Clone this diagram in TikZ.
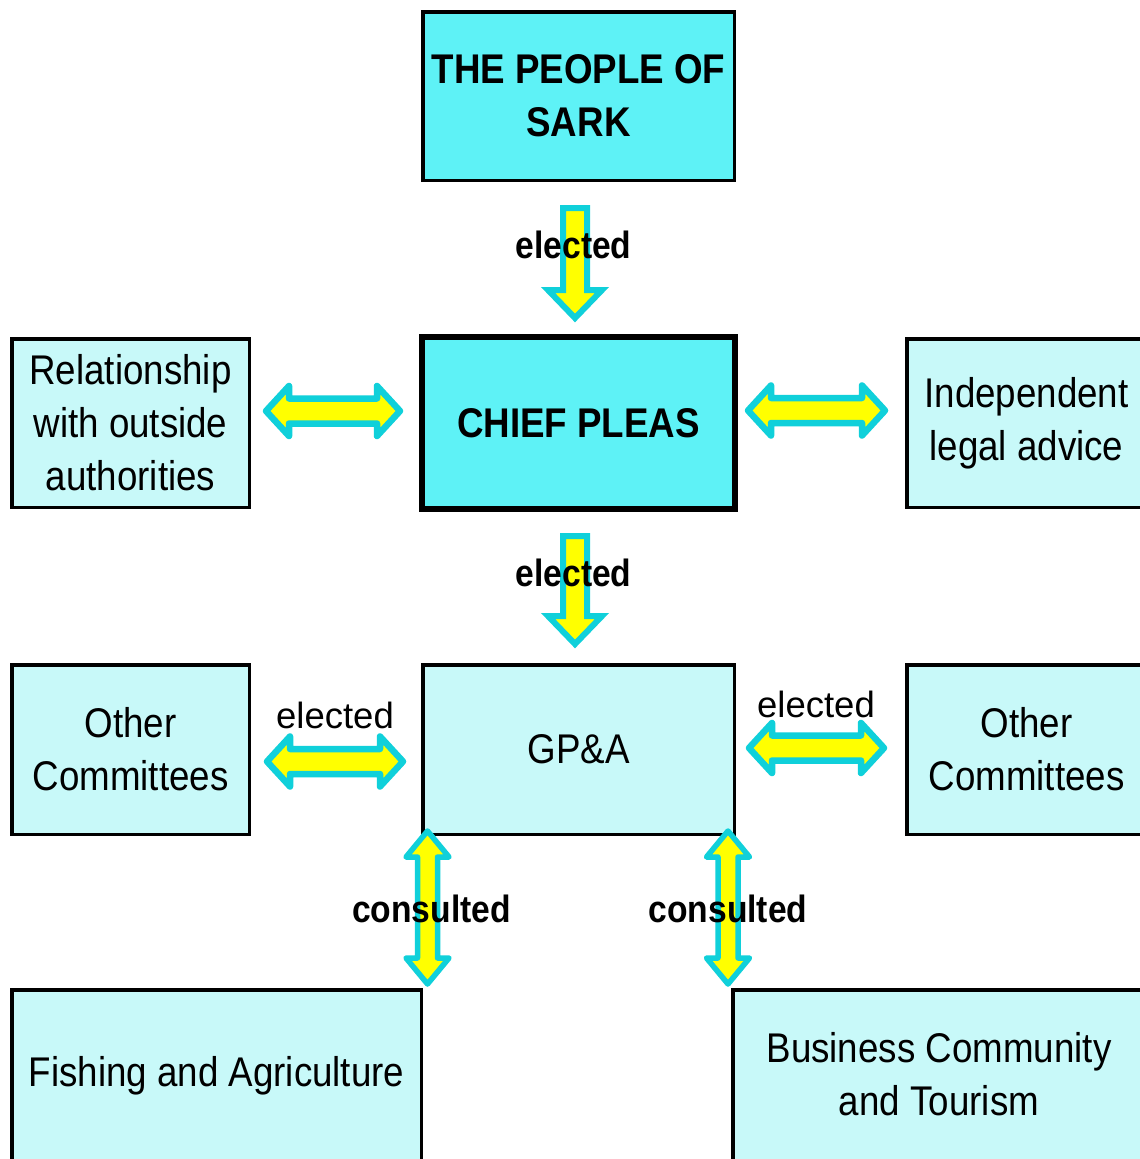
\documentclass[tikz,border=0pt]{standalone}
\usepackage{fontspec}
\setmainfont{Liberation Sans}[FakeStretch=0.885]
\newfontfamily\thinlabel{Liberation Sans}
\usetikzlibrary{calc}

\definecolor{deepcyan}{HTML}{5EF2F6}
\definecolor{palecyan}{HTML}{C8F9F9}
\definecolor{rimcyan}{HTML}{10D0DA}
\definecolor{arrowyellow}{HTML}{FFFF00}

\tikzset{
  panel/.style={draw=black, line width=3.5pt, fill=palecyan, inner sep=0pt,
    align=center, font=\fontsize{41.5}{53}\selectfont},
  mainpanel/.style={panel, fill=deepcyan, font=\fontsize{41.5}{53}\selectfont\bfseries},
  bodytext/.style={align=center, inner sep=0pt, font=\fontsize{41.5}{53}\selectfont},
  arrowbody/.style={fill=arrowyellow, draw=rimcyan, line width=6.5pt, line join=round},
  boldlabel/.style={inner sep=0pt, anchor=base, font=\fontsize{38}{40}\selectfont\bfseries},
  plainlabel/.style={inner sep=0pt, anchor=base, font=\thinlabel\fontsize{36.5}{40}\selectfont},
}

% single downward block arrow: #1 top of shaft, #2 tip
\newcommand\sarkdown[2]{%
  \filldraw[arrowbody, line width=6pt, line join=miter] let \p1=(#1), \p2=(#2) in
    (\x1-12pt,\y1) -- (\x1+12pt,\y1) -- (\x1+12pt,\y2+28pt) -- (\x1+27pt,\y2+28pt)
    -- (\x1,\y2) -- (\x1-27pt,\y2+28pt) -- (\x1-12pt,\y2+28pt) -- cycle;}

% horizontal double block arrow: #1 left tip, #2 right tip
\newcommand\sarkhboth[2]{%
  \filldraw[arrowbody] let \p1=(#1), \p2=(#2) in
    (\x1,\y1) -- (\x1+23pt,\y1+25pt) -- (\x1+23pt,\y1+12.5pt) -- (\x2-23pt,\y1+12.5pt)
    -- (\x2-23pt,\y1+25pt) -- (\x2,\y1) -- (\x2-23pt,\y1-25pt) -- (\x2-23pt,\y1-12.5pt)
    -- (\x1+23pt,\y1-12.5pt) -- (\x1+23pt,\y1-25pt) -- cycle;}

% vertical double block arrow: #1 top tip, #2 bottom tip
\newcommand\sarkvboth[2]{%
  \filldraw[arrowbody, line width=5.5pt] let \p1=(#1), \p2=(#2) in
    (\x1,\y1) -- (\x1+21.5pt,\y1-26pt) -- (\x1+10pt,\y1-26pt) -- (\x1+10pt,\y2+26pt)
    -- (\x1+21.5pt,\y2+26pt) -- (\x1,\y2) -- (\x1-21.5pt,\y2+26pt) -- (\x1-10pt,\y2+26pt)
    -- (\x1-10pt,\y1-26pt) -- (\x1-21.5pt,\y1-26pt) -- cycle;}

\begin{document}
\begin{tikzpicture}[x=1pt, y=-1pt]
\useasboundingbox (0,0) rectangle (1140,1159);
\clip (0,0) rectangle (1140,1159);
\fill[white] (0,0) rectangle (1140,1159);

% boxes
\node[mainpanel, minimum width=311.5, minimum height=168.5] (people) at (578.5,96)
  {THE PEOPLE OF\\SARK};
\node[mainpanel, line width=6pt, minimum width=313, minimum height=172] (chief) at (578.5,423)
  {CHIEF PLEAS};
\node[panel, minimum width=237.5, minimum height=168.5] (rel) at (130.5,423)
  {Relationship\\with outside\\authorities};
\node[panel, minimum width=239.5, minimum height=168.5] (legal) at (1026.5,423)
  {Independent\\legal advice};
\node[panel, minimum width=237.5, minimum height=169.5] (otherL) at (130.5,749.5)
  {Other\\Committees};
\node[panel, minimum width=311.5, minimum height=169.5] (gpa) at (578.5,749.5)
  {GP\&A};
\node[panel, minimum width=239.5, minimum height=169.5] (otherR) at (1026.5,749.5)
  {Other\\Committees};
\node[panel, minimum width=409.5, minimum height=300, anchor=north] (fish) at (216.5,988) {};
\node[panel, minimum width=412, minimum height=300, anchor=north] (biz) at (939,988) {};
\node[bodytext] (fishtext) at ($(fish.north)+(0,88)$) {Fishing and Agriculture};
\node[bodytext] (biztext) at ($(biz.north)+(0,86)$) {Business Community\\and Tourism};

% arrow end points, taken from the boxes they join
\coordinate (d1a) at ($(people.south)+(-3.5,26)$);
\coordinate (d1b) at ($(chief.north)+(-3.5,-16)$);
\coordinate (d2a) at ($(chief.south)+(-3.5,24)$);
\coordinate (d2b) at ($(gpa.north)+(-3.5,-19)$);
\coordinate (h1a) at ($(rel.east)+(15,-12)$);
\coordinate (h1b) at ($(chief.west)+(-19,-12)$);
\coordinate (h2a) at ($(chief.east)+(10,-12.5)$);
\coordinate (h2b) at ($(legal.west)+(-20,-12.5)$);
\coordinate (h3a) at ($(otherL.east)+(16,12)$);
\coordinate (h3b) at ($(gpa.west)+(-18,12)$);
\coordinate (h4a) at ($(gpa.east)+(13,-1.5)$);
\coordinate (h4b) at ($(otherR.west)+(-21,-1.5)$);
\coordinate (v1a) at ($(gpa.south)+(-151,-5)$);
\coordinate (v1b) at ($(fish.north)+(211,-4)$);
\coordinate (v2a) at ($(gpa.south)+(149.5,-5)$);
\coordinate (v2b) at ($(biz.north)+(-211,-4)$);

% connectors
\sarkdown{d1a}{d1b}
\sarkdown{d2a}{d2b}
\sarkhboth{h1a}{h1b}
\sarkhboth{h2a}{h2b}
\sarkhboth{h3a}{h3b}
\sarkhboth{h4a}{h4b}
\sarkvboth{v1a}{v1b}
\sarkvboth{v2a}{v2b}

% connector labels
\node[boldlabel] (el1) at (573.5,258) {elected};
\node[boldlabel] (el2) at (573.5,586) {elected};
\node[plainlabel] (el3) at (335,728) {elected};
\node[plainlabel] (el4) at (816,717) {elected};
\node[boldlabel] (co1) at (431.5,922) {consulted};
\node[boldlabel] (co2) at (728,922) {consulted};
\end{tikzpicture}
\end{document}
